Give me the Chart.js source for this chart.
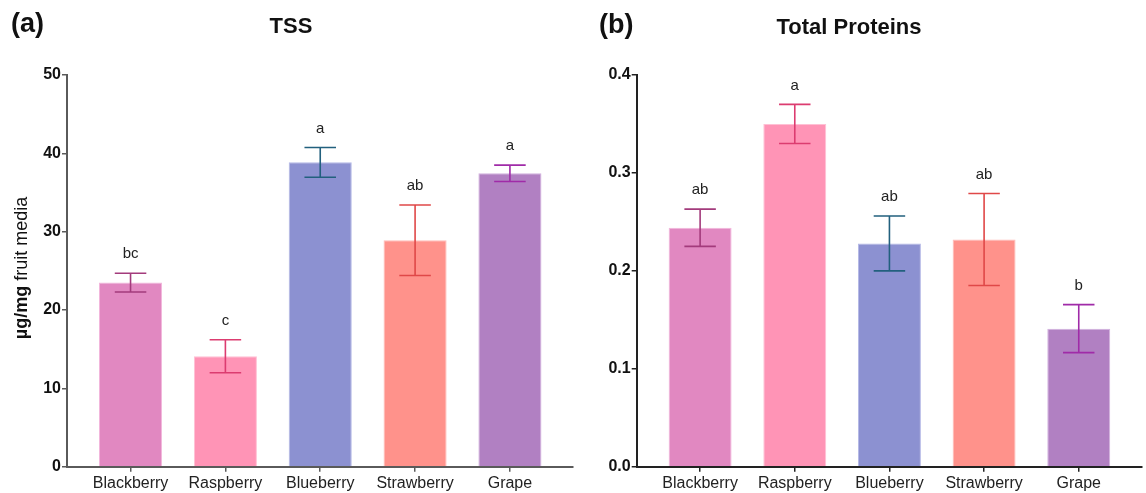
<!DOCTYPE html>
<html>
<head>
<meta charset="utf-8">
<script src="https://cdn.jsdelivr.net/npm/chart.js@4"></script>
<style>
  html, body { margin: 0; padding: 0; background: #ffffff; }
  body { width: 1146px; height: 493px; position: relative; overflow: hidden; }
  .panel { position: absolute; top: 0; height: 493px; }
  #panelA { left: 0; width: 580px; }
  #panelB { left: 580px; width: 566px; }
</style>
</head>
<body>
<div class="panel" id="panelA"><canvas id="tssChart"></canvas></div>
<div class="panel" id="panelB"><canvas id="proteinChart"></canvas></div>
<script>
// Fruit media measurements (mean ± error) with significance letters
const categories = ['Blackberry', 'Raspberry', 'Blueberry', 'Strawberry', 'Grape'];

const tssMeans   = [23.5, 14.1, 38.85, 28.9, 37.45];
const tssErrors  = [1.2, 2.1, 1.9, 4.5, 1.05];
const tssLetters = ['bc', 'c', 'a', 'ab', 'a'];
const tssTicks   = [0, 10, 20, 30, 40, 50];

const protMeans   = [0.244, 0.350, 0.228, 0.232, 0.141];
const protErrors  = [0.019, 0.020, 0.028, 0.047, 0.0245];
const protLetters = ['ab', 'a', 'ab', 'ab', 'b'];
const protTicks   = [0.0, 0.1, 0.2, 0.3, 0.4];

const barFill   = ['#E188C1', '#FF94B6', '#8C91D1', '#FF928B', '#B180C2'];
const barEdge   = ['#F2B6DC', '#FFC0D4', '#B4B8E6', '#FFBDB8', '#D2B0DE'];
const whiskerCl = ['#A33B7C', '#DC3C70', '#22607E', '#E04848', '#A02BA8'];

const FONT = '"Liberation Sans", Arial, Helvetica, sans-serif';

// Whiskers, caps and group letters on top of each bar
const errorBarPlugin = {
  id: 'errorBars',
  afterDatasetsDraw(chart, args, opts) {
    const { ctx, scales: { x, y } } = chart;
    const meta = chart.getDatasetMeta(0);
    ctx.save();
    meta.data.forEach((bar, i) => {
      const mean = opts.means[i];
      const err = opts.errors[i];
      const cx = x.getPixelForValue(i);
      const yTop = y.getPixelForValue(mean + err);
      const yBot = y.getPixelForValue(mean - err);
      const half = bar.width * 0.25;
      ctx.strokeStyle = opts.colors[i];
      ctx.lineWidth = 1.6;
      ctx.beginPath();
      ctx.moveTo(cx, yTop); ctx.lineTo(cx, yBot);
      ctx.moveTo(cx - half, yTop); ctx.lineTo(cx + half, yTop);
      ctx.moveTo(cx - half, yBot); ctx.lineTo(cx + half, yBot);
      ctx.stroke();
      ctx.fillStyle = '#222222';
      ctx.font = '15px ' + FONT;
      ctx.textAlign = 'center';
      ctx.textBaseline = 'middle';
      ctx.fillText(opts.letters[i], cx, yTop - 19);
    });
    ctx.restore();
  }
};

// Panel tag, title and the rotated y-axis caption
const decorPlugin = {
  id: 'decor',
  afterDraw(chart, args, opts) {
    const { ctx } = chart;
    ctx.save();
    ctx.fillStyle = '#111111';
    ctx.textBaseline = 'middle';
    ctx.textAlign = 'left';
    ctx.font = 'bold 27px ' + FONT;
    ctx.fillText(opts.tag, opts.tagX, opts.tagY);
    ctx.textAlign = 'center';
    ctx.font = 'bold 22px ' + FONT;
    ctx.fillText(opts.title, opts.titleX, opts.titleY);
    if (opts.yBold) {
      ctx.translate(opts.yTitleX, opts.yTitleY);
      ctx.rotate(-Math.PI / 2);
      ctx.textAlign = 'left';
      const boldFont = 'bold 18px ' + FONT;
      const plainFont = '18px ' + FONT;
      ctx.font = boldFont;
      const w1 = ctx.measureText(opts.yBold).width;
      ctx.font = plainFont;
      const w2 = ctx.measureText(opts.yPlain).width;
      const start = -(w1 + w2) / 2;
      ctx.font = boldFont;
      ctx.fillText(opts.yBold, start, 0);
      ctx.font = plainFont;
      ctx.fillText(opts.yPlain, start + w1, 0);
    }
    ctx.restore();
  }
};

function makeChart(canvasId, means, errors, letters, ticks, yMax, axisColor, yWidth, padRight, labelFmt, decor) {
  const points = means.map((v, i) => ({ x: i, y: v }));
  return new Chart(document.getElementById(canvasId), {
    type: 'bar',
    data: {
      datasets: [{
        data: points,
        backgroundColor: barFill,
        borderColor: barEdge,
        borderWidth: 1,
        barPercentage: 0.665,
        categoryPercentage: 1.0
      }]
    },
    options: {
      responsive: true,
      maintainAspectRatio: false,
      animation: false,
      layout: { padding: { top: 75, left: 0, right: padRight, bottom: 0 } },
      plugins: {
        legend: { display: false },
        tooltip: { enabled: false },
        errorBars: { means, errors, letters, colors: whiskerCl },
        decor
      },
      scales: {
        x: {
          type: 'linear',
          offset: false,
          bounds: 'data',
          min: -0.67,
          max: 4.665,
          afterBuildTicks(scale) { scale.ticks = categories.map((_, i) => ({ value: i })); },
          afterFit(scale) { scale.height = 26.3; },
          ticks: {
            autoSkip: false,
            maxRotation: 0,
            padding: 2,
            color: '#222222',
            font: { family: FONT, size: 16 },
            callback: (v) => categories[v]
          },
          grid: { offset: false, drawOnChartArea: false, drawTicks: true, tickLength: 5, color: axisColor, lineWidth: 1.5 },
          border: { display: true, color: axisColor, width: 2 }
        },
        y: {
          min: 0,
          max: yMax,
          afterBuildTicks(scale) { scale.ticks = ticks.map(v => ({ value: v })); },
          afterFit(scale) { scale.width = yWidth; },
          ticks: {
            padding: 1,
            color: '#111111',
            font: { family: FONT, size: 16, weight: 'bold' },
            callback: labelFmt
          },
          grid: { drawOnChartArea: false, drawTicks: true, tickLength: 5, color: axisColor, lineWidth: 1.5 },
          border: { display: true, color: axisColor, width: 2 }
        }
      }
    },
    plugins: [errorBarPlugin, decorPlugin]
  });
}

makeChart('tssChart', tssMeans, tssErrors, tssLetters, tssTicks, 50, '#5a5a5a', 67, 7,
  (v) => String(v),
  { tag: '(a)', tagX: 11, tagY: 25, title: 'TSS', titleX: 291, titleY: 27,
    yBold: 'µg/mg', yPlain: ' fruit media', yTitleX: 22, yTitleY: 268 });

makeChart('proteinChart', protMeans, protErrors, protLetters, protTicks, 0.4, '#222222', 56.7, 4.3,
  (v) => Number(v).toFixed(1),
  { tag: '(b)', tagX: 19, tagY: 26, title: 'Total Proteins', titleX: 269, titleY: 28 });
</script>
</body>
</html>
